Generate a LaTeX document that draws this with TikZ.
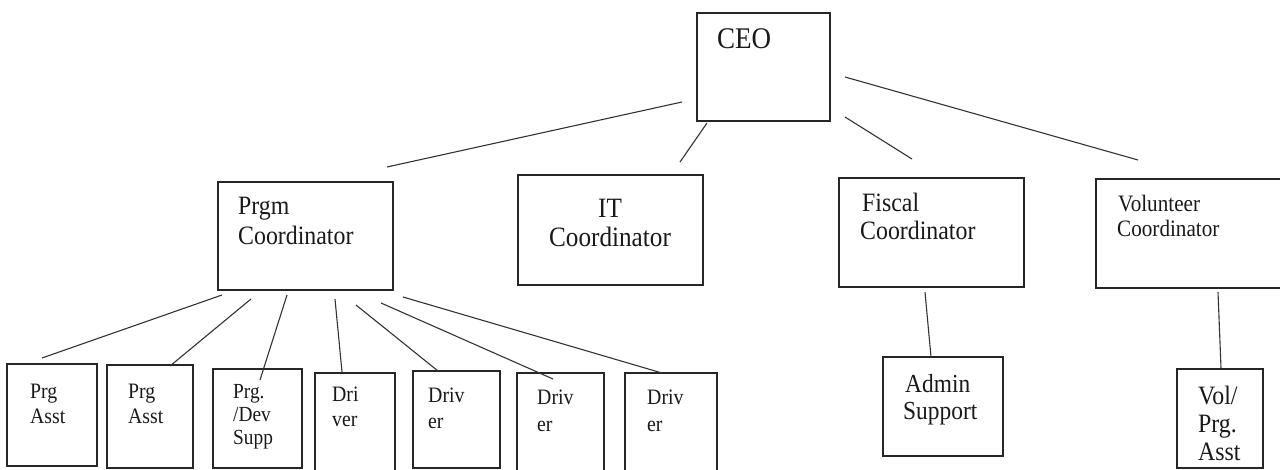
\documentclass[tikz,border=0pt]{standalone}
\usepackage{fontspec}
\setmainfont{Liberation Serif}[FakeStretch=0.9]
\usetikzlibrary{fit}
\begin{document}
\begin{tikzpicture}[x=1pt,y=-1pt,
  orgbox/.style={draw=black!85,line width=1.2pt,inner sep=0pt,rectangle},
  conn/.style={draw=black!80,line width=1.1pt},
  lbl/.style={inner sep=0pt,anchor=base west,text=black!90},
  fsz/.style={font=\fontsize{#1}{#1}\selectfont}]
\useasboundingbox (0,0) rectangle (1280,470);
\fill[white] (0,0) rectangle (1280,470);
% boxes
\node[orgbox,fit={(697,13) (830,121)}] (ceo) {};
\node[orgbox,fit={(218,182) (393,290)}] (prgm) {};
\node[orgbox,fit={(518,175) (703,285)}] (it) {};
\node[orgbox,fit={(839,178) (1024,287)}] (fis) {};
\node[orgbox,fit={(1096,179) (1300,288)}] (vol) {};
\node[orgbox,fit={(883,357) (1003,456)}] (adm) {};
\node[orgbox,fit={(1177,369) (1263,468)}] (vp) {};
\node[orgbox,fit={(7,364) (97,466)}] (b1) {};
\node[orgbox,fit={(107,365) (193,468)}] (b2) {};
\node[orgbox,fit={(213,369) (302,468)}] (b3) {};
\node[orgbox,fit={(315,373) (395,485)}] (b4) {};
\node[orgbox,fit={(413,371) (500,468)}] (b5) {};
\node[orgbox,fit={(517,373) (604,485)}] (b6) {};
\node[orgbox,fit={(625,373) (717,485)}] (b7) {};
% texts
\node[lbl,fsz=30] (ceo-t) at (717,49) {CEO};
\node[lbl,fsz=26.5] (prgm-t1) at (238,215) {Prgm};
\node[lbl,fsz=26.5] (prgm-t2) at (238,245) {Coordinator};
\node[lbl,fsz=28,anchor=base] (it-t1) at (610,218) {IT};
\node[lbl,fsz=28,anchor=base] (it-t2) at (610,247) {Coordinator};
\node[lbl,fsz=26.5] (fis-t1) at (862,212) {Fiscal};
\node[lbl,fsz=26.5] (fis-t2) at (860,240) {Coordinator};
\node[lbl,fsz=23.5] (vol-t1) at (1118,212) {Volunteer};
\node[lbl,fsz=23.5] (vol-t2) at (1117,237) {Coordinator};
\node[lbl,fsz=26] (adm-t1) at (905,392) {Admin};
\node[lbl,fsz=26] (adm-t2) at (903,419) {Support};
\node[lbl,fsz=26.5] (vp-t1) at (1198,404) {Vol/};
\node[lbl,fsz=26.5] (vp-t2) at (1198,432) {Prg.};
\node[lbl,fsz=26.5] (vp-t3) at (1198,460) {Asst};
\node[lbl,fsz=22] (b1-t1) at (30,398) {Prg};
\node[lbl,fsz=22] (b1-t2) at (30,423) {Asst};
\node[lbl,fsz=22] (b2-t1) at (128,398) {Prg};
\node[lbl,fsz=22] (b2-t2) at (128,423) {Asst};
\node[lbl,fsz=21.5] (b3-t1) at (233,398) {Prg.};
\node[lbl,fsz=21.5] (b3-t2) at (233,421) {/Dev};
\node[lbl,fsz=21.5] (b3-t3) at (233,444) {Supp};
\node[lbl,fsz=22] (b4-t1) at (332,401) {Dri};
\node[lbl,fsz=22] (b4-t2) at (332,426) {ver};
\node[lbl,fsz=22] (b5-t1) at (428,402) {Driv};
\node[lbl,fsz=22] (b5-t2) at (428,428) {er};
\node[lbl,fsz=22] (b6-t1) at (537,404) {Driv};
\node[lbl,fsz=22] (b6-t2) at (537,431) {er};
\node[lbl,fsz=22] (b7-t1) at (647,404) {Driv};
\node[lbl,fsz=22] (b7-t2) at (647,431) {er};
% connector end points
\coordinate (ceo-prgm-a) at (682,102); \coordinate (ceo-prgm-b) at (387,167);
\coordinate (ceo-it-a) at (707,123);   \coordinate (ceo-it-b) at (680,162);
\coordinate (ceo-fis-a) at (845,117);  \coordinate (ceo-fis-b) at (912,159);
\coordinate (ceo-vol-a) at (845,77);   \coordinate (ceo-vol-b) at (1138,160);
\coordinate (p-b1-a) at (222,295); \coordinate (p-b1-b) at (42,358);
\coordinate (p-b2-a) at (251,299); \coordinate (p-b2-b) at (170,366);
\coordinate (p-b3-a) at (287,295); \coordinate (p-b3-b) at (260,380);
\coordinate (p-b4-a) at (335,299); \coordinate (p-b4-b) at (342,372);
\coordinate (p-b5-a) at (356,305); \coordinate (p-b5-b) at (438,371);
\coordinate (p-b6-a) at (381,303); \coordinate (p-b6-b) at (553,379);
\coordinate (p-b7-a) at (403,297); \coordinate (p-b7-b) at (662,373);
\coordinate (fis-adm-a) at (925,292); \coordinate (fis-adm-b) at (931,357);
\coordinate (vol-vp-a) at (1218,292); \coordinate (vol-vp-b) at (1221,368);
% connectors
\draw[conn] (ceo-prgm-a) -- (ceo-prgm-b);
\draw[conn] (ceo-it-a) -- (ceo-it-b);
\draw[conn] (ceo-fis-a) -- (ceo-fis-b);
\draw[conn] (ceo-vol-a) -- (ceo-vol-b);
\draw[conn] (p-b1-a) -- (p-b1-b);
\draw[conn] (p-b2-a) -- (p-b2-b);
\draw[conn] (p-b3-a) -- (p-b3-b);
\draw[conn] (p-b4-a) -- (p-b4-b);
\draw[conn] (p-b5-a) -- (p-b5-b);
\draw[conn] (p-b6-a) -- (p-b6-b);
\draw[conn] (p-b7-a) -- (p-b7-b);
\draw[conn] (fis-adm-a) -- (fis-adm-b);
\draw[conn] (vol-vp-a) -- (vol-vp-b);
\end{tikzpicture}
\end{document}
